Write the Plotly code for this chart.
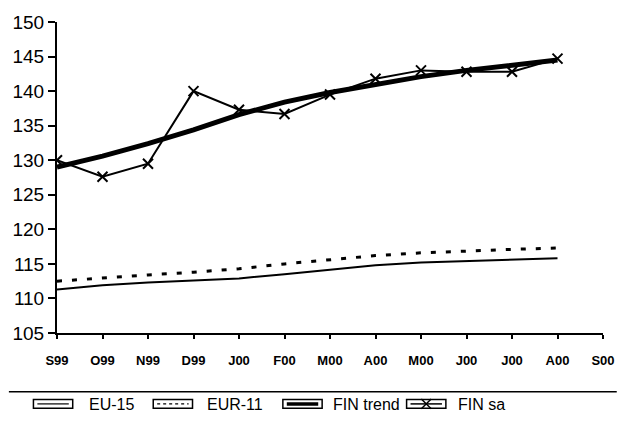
import plotly.graph_objects as go

months = ["S99", "O99", "N99", "D99", "J00", "F00", "M00", "A00", "M00", "J00", "J00", "A00", "S00"]
eu15 = [111.3, 111.9, 112.3, 112.6, 112.9, 113.5, 114.2, 114.8, 115.2, 115.4, 115.6, 115.8]
eur11 = [112.5, 113.0, 113.4, 113.8, 114.3, 115.0, 115.6, 116.2, 116.6, 116.9, 117.1, 117.3]
fin_trend = [129.0, 130.6, 132.4, 134.4, 136.6, 138.4, 139.8, 141.0, 142.1, 143.0, 143.8, 144.5]
fin_sa = [130.0, 127.6, 129.5, 140.0, 137.3, 136.7, 139.5, 141.8, 143.0, 142.8, 142.8, 144.7]

series_names = ["EU-15", "EUR-11", "FIN trend", "FIN sa"]

W, H = 627, 427
ML, MR, MT, MB = 57, 14, 15, 94
PW, PH = W - ML - MR, H - MT - MB


def px(xp):
    return (xp - ML) / PW


def py(yp):
    return (H - MB - yp) / PH


x = list(range(len(eu15)))

styles = [
    dict(color="black", width=2),
    dict(color="black", width=3, dash="5px,10px"),
    dict(color="black", width=5),
    dict(color="black", width=2),
]

fig = go.Figure()
fig.add_trace(go.Scatter(x=x, y=eu15, mode="lines", name=series_names[0], line=styles[0]))
fig.add_trace(go.Scatter(x=x, y=eur11, mode="lines", name=series_names[1], line=styles[1]))
fig.add_trace(go.Scatter(x=x, y=fin_trend, mode="lines", name=series_names[2], line=styles[2]))
fig.add_trace(go.Scatter(x=x, y=fin_sa, mode="lines+markers", name=series_names[3],
                         line=styles[3],
                         marker=dict(symbol="x-thin", size=10,
                                     line=dict(color="black", width=2))))

# separator rule above the legend
fig.add_shape(type="line", xref="paper", yref="paper",
              x0=px(8), x1=px(627), y0=py(393), y1=py(393),
              line=dict(color="black", width=1.5))

# boxed legend keys drawn below the rule
box_left = [33, 155, 287, 413]
text_left = [88, 208, 336, 463]
key_top, key_bot = 401, 410
key_mid = (key_top + key_bot) / 2
inner_widths = [1.2, 1.2, 3.5, 1.5]
for i, name in enumerate(series_names):
    b0, b1 = box_left[i], box_left[i] + 40
    fig.add_shape(type="rect", xref="paper", yref="paper",
                  x0=px(b0), x1=px(b1), y0=py(key_bot), y1=py(key_top),
                  line=dict(color="black", width=1.5), fillcolor="white")
    dash = "3px,3px" if i == 1 else "solid"
    fig.add_shape(type="line", xref="paper", yref="paper",
                  x0=px(b0 + 4), x1=px(b1 - 4), y0=py(key_mid), y1=py(key_mid),
                  line=dict(color="black", width=inner_widths[i], dash=dash))
    if i == 3:
        cx = (b0 + b1) / 2
        for dy in (-1, 1):
            fig.add_shape(type="line", xref="paper", yref="paper",
                          x0=px(cx - 5), x1=px(cx + 5),
                          y0=py(key_mid - 5 * dy), y1=py(key_mid + 5 * dy),
                          line=dict(color="black", width=1.5))
    fig.add_annotation(text=name, xref="paper", yref="paper",
                       x=px(text_left[i]), y=py(key_mid + 1), xanchor="left", yanchor="middle",
                       showarrow=False, font=dict(size=16))

fig.update_layout(
    width=W, height=H,
    margin=dict(l=ML, r=MR, t=MT, b=MB),
    plot_bgcolor="white", paper_bgcolor="white",
    font=dict(family="Liberation Sans, Arial, sans-serif", color="black"),
    showlegend=False,
)
fig.update_xaxes(range=[0, 12], tickmode="array", tickvals=list(range(len(months))),
                 ticktext=months, showgrid=False, zeroline=False,
                 showline=True, linecolor="black", linewidth=2,
                 ticks="outside", ticklen=4, tickwidth=2, tickcolor="black",
                 ticklabelstandoff=10,
                 tickfont=dict(size=13, family="Liberation Sans, Arial, sans-serif",
                               weight="bold"))
fig.update_yaxes(range=[105, 150], dtick=5, showgrid=False, zeroline=False,
                 showline=True, linecolor="black", linewidth=2,
                 ticks="outside", ticklen=7, tickwidth=2, tickcolor="black",
                 tickfont=dict(size=19))

fig.write_html("out.html")
